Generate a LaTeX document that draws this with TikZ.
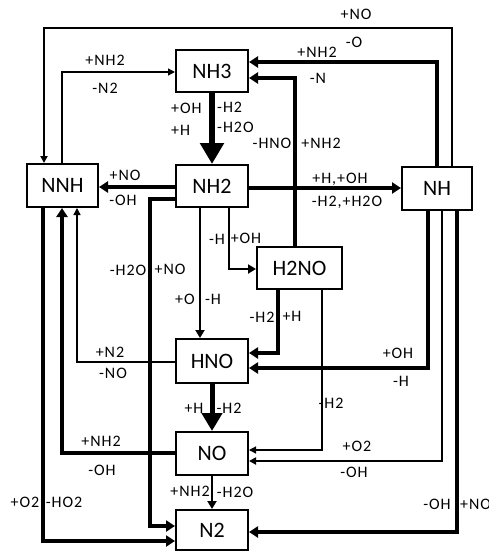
\documentclass[tikz,border=0pt]{standalone}
\usepackage{fontspec}
\setmainfont{Carlito}
\newfontfamily\labfam{Carlito}[LetterSpace=6]
\usetikzlibrary{arrows.meta}
\newcommand{\nodefnt}{\fontsize{22}{22}\selectfont}
\newcommand{\labfnt}{\labfam\fontsize{16}{16}\selectfont}
\begin{document}
\begin{tikzpicture}[x=1pt,y=-1pt,
  box/.style={draw, line width=2pt, minimum height=42pt, minimum width=72pt, font=\nodefnt, inner sep=0pt},
  lab/.style={font=\labfnt, inner sep=0pt},
  thinar/.style={line width=1.3pt, -{Triangle[length=7pt,width=7pt]}},
  loopar/.style={line width=2pt, -{Triangle[length=7pt,width=7pt]}},
  medar/.style={line width=2.4pt, -{Triangle[length=8pt,width=9pt]}},
  thickar/.style={line width=3.6pt, -{Triangle[length=9pt,width=11pt]}},
  bigar/.style={line width=5pt, -{Triangle[length=18pt,width=20pt]}},
  hugear/.style={line width=6.5pt, -{Triangle[length=21pt,width=23pt]}}]
\useasboundingbox (0,0) rectangle (489,555);
% nodes
\node[box] (NH3) at (212,71) {NH3};
\node[box, minimum width=71pt, minimum height=43pt] (NNH) at (62.5,185.5) {NNH};
\node[box] (NH2) at (212,186) {NH2};
\node[box, minimum width=70pt, minimum height=43pt] (NH) at (437,188.5) {NH};
\node[box, minimum width=85pt] (H2NO) at (299.5,268) {H2NO};
\node[box, minimum height=44pt] (HNO) at (212,361) {HNO};
\node[box, minimum height=43pt] (NO) at (212,453.5) {NO};
\node[box, minimum height=40pt] (N2) at (212,530) {N2};
% bend coordinates
\coordinate (c2) at (62,72);
\coordinate (c3a) at (452,28);
\coordinate (c3b) at (44,28);
\coordinate (c4) at (437,62);
\coordinate (c5) at (295,78);
\coordinate (c6) at (0,187);
\coordinate (c7) at (0,188);
\coordinate (c8a) at (150,199);
\coordinate (c8b) at (150,526);
\coordinate (c9) at (200,0);
\coordinate (c10) at (229,269);
\coordinate (c11) at (278,353);
\coordinate (c12) at (428,368);
\coordinate (c13) at (77,362);
\coordinate (c15) at (62,453);
\coordinate (c16) at (322,450);
\coordinate (c17) at (442,461);
\coordinate (c18) at (457,532);
\coordinate (c19) at (43,541);
% connectors
\draw[hugear] (NH3.south) -- (NH2.north);
\draw[thinar] (c2 |- NNH.north) -- (c2) -- (c2 -| NH3.west);
\draw[loopar] (c3a |- NH.north) -- (c3a) -- (c3b) -- (c3b |- NNH.north);
\draw[thickar] (c4 |- NH.north) -- (c4) -- (c4 -| NH3.east);
\draw[thickar] (c5 |- H2NO.north) -- (c5) -- (c5 -| NH3.east);
\draw[thickar] (c6 -| NH2.west) -- (c6 -| NNH.east);
\draw[thickar] (c7 -| NH2.east) -- (c7 -| NH.west);
\draw[thickar] (c8a -| NH2.west) -- (c8a) -- (c8b) -- (c8b -| N2.west);
\draw[medar] (c9 |- NH2.south) -- (c9 |- HNO.north);
\draw[medar] (c10 |- NH2.south) -- (c10) -- (c10 -| H2NO.west);
\draw[thickar] (c11 |- H2NO.south) -- (c11) -- (c11 -| HNO.east);
\draw[thickar] (c12 |- NH.south) -- (c12) -- (c12 -| HNO.east);
\draw[thinar] (c13 -| HNO.west) -- (c13) -- (c13 |- NNH.south);
\draw[bigar] (HNO.south) -- (NO.north);
\draw[thickar] (c15 -| NO.west) -- (c15) -- (c15 |- NNH.south);
\draw[thinar] (c16 |- H2NO.south) -- (c16) -- (c16 -| NO.east);
\draw[loopar] (c17 |- NH.south) -- (c17) -- (c17 -| NO.east);
\draw[thickar] (c18 |- NH.south) -- (c18) -- (c18 -| N2.east);
\draw[thickar] (c19 |- NNH.south) -- (c19) -- (c19 -| N2.west);
\draw[medar] (NO.south) -- (N2.north);
% labels
\node[lab, anchor=west] (l1) at (171,108) {+OH};
\node[lab, anchor=west] (l2) at (171,130) {+H};
\node[lab, anchor=west] (l3) at (217,107) {-H2};
\node[lab, anchor=west] (l4) at (217,127) {-H2O};
\node[lab] (l5) at (105,60) {+NH2};
\node[lab] (l6) at (105,88) {-N2};
\node[lab] (l7) at (356,14) {+NO};
\node[lab] (l8) at (354,42) {-O};
\node[lab] (l9) at (317,52) {+NH2};
\node[lab] (l10) at (318,78) {-N};
\node[lab] (l11) at (272,143) {-HNO};
\node[lab] (l12) at (321,143) {+NH2};
\node[lab] (l13) at (125,175) {+NO};
\node[lab] (l14) at (123,200) {-OH};
\node[lab] (l15) at (340,179) {+H,+OH};
\node[lab] (l16) at (347,202) {-H2,+H2O};
\node[lab] (l17) at (128,270) {-H2O};
\node[lab] (l18) at (170,269) {+NO};
\node[lab] (l19) at (185,299) {+O};
\node[lab] (l20) at (213,299) {-H};
\node[lab] (l21) at (217,239) {-H};
\node[lab] (l22) at (246,238) {+OH};
\node[lab] (l23) at (262,317) {-H2};
\node[lab] (l24) at (292,316) {+H};
\node[lab] (l25) at (398,353) {+OH};
\node[lab] (l26) at (401,381) {-H};
\node[lab] (l27) at (110,352) {+N2};
\node[lab] (l28) at (113,373) {-NO};
\node[lab] (l29) at (194,408) {+H};
\node[lab] (l30) at (229,408) {-H2};
\node[lab] (l31) at (101,441) {+NH2};
\node[lab] (l32) at (102,470) {-OH};
\node[lab] (l33) at (331,403) {-H2};
\node[lab] (l34) at (357,446) {+O2};
\node[lab] (l35) at (354,472) {-OH};
\node[lab] (l36) at (437,504) {-OH};
\node[lab, anchor=west] (l37) at (460,504) {+NO};
\node[lab] (l38) at (25,502) {+O2};
\node[lab] (l39) at (64,502) {-HO2};
\node[lab] (l40) at (190,491) {+NH2};
\node[lab] (l41) at (235,492) {-H2O};
\end{tikzpicture}
\end{document}
